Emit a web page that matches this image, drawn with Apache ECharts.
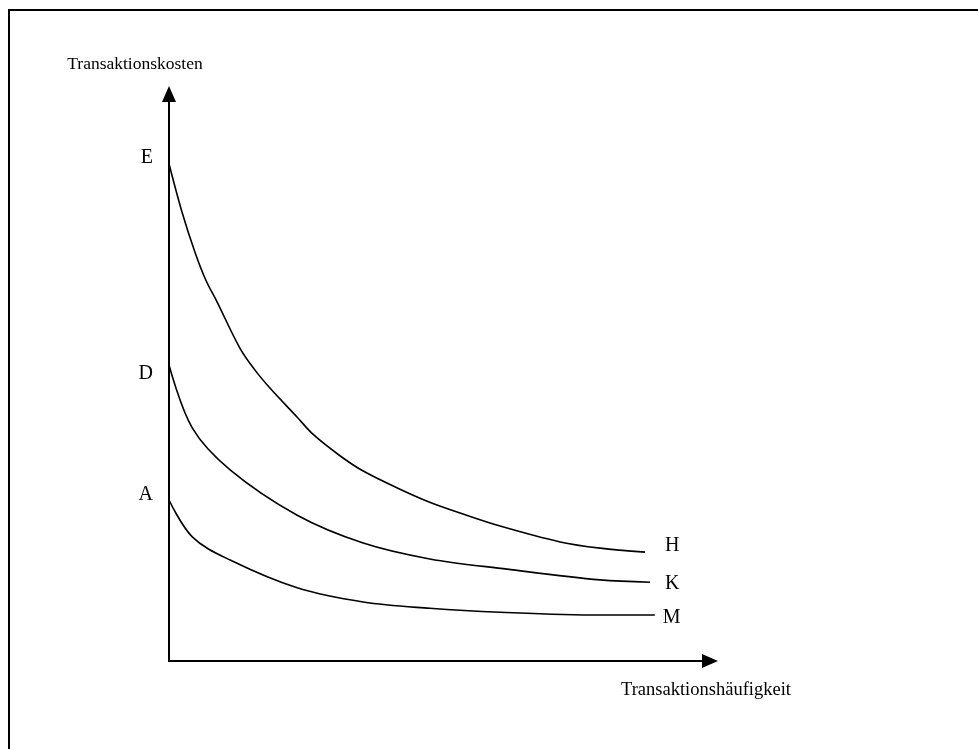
<!DOCTYPE html>
<html>
<head>
<meta charset="utf-8">
<script src="https://cdn.jsdelivr.net/npm/echarts@6/dist/echarts.min.js"></script>
<style>
  html, body { margin: 0; padding: 0; background: #fff; }
  #chart { width: 978px; height: 749px; }
</style>
</head>
<body>
<div id="chart"></div>
<script>
// curve values (x: Transaktionshäufigkeit, y: Transaktionskosten, both 0-100)
var hX = [0, 2.4, 4.8, 6.8, 8.9, 13.1, 15.9, 18.7, 23.7, 26.6, 31.6, 35.9, 42.7, 48.2, 53.8, 61.2, 72.3, 79.7, 88.0];
var hY = [87.7, 79.2, 72.1, 67.2, 63.3, 55.2, 51.3, 48.1, 43.0, 40.0, 36.2, 33.5, 30.3, 28.0, 26.1, 23.8, 21.0, 19.9, 19.2];
var kX = [0, 4.3, 11.3, 23.7, 35.9, 48.2, 62.5, 79.7, 88.9];
var kY = [52.2, 41.1, 33.7, 25.7, 20.8, 18.0, 16.2, 14.3, 13.9];
var mX = [0, 4.3, 11.3, 23.7, 35.9, 48.2, 61.2, 79.7, 89.8];
var mY = [28.4, 21.9, 17.8, 12.9, 10.4, 9.3, 8.6, 8.1, 8.1];
var startLabels = ['E', 'D', 'A'];
var endLabels = ['H', 'K', 'M'];
var yName = 'Transaktionskosten';
var xName = 'Transaktionshäufigkeit';

var font = '"Liberation Serif", "DejaVu Serif", serif';

function pairs(xs, ys) {
  var out = [];
  for (var i = 0; i < xs.length; i++) {
    out.push([xs[i], ys[i]]);
  }
  return out;
}

// xs, ys, start label offset, end label distance, end label offset
var curves = [
  [hX, hY, [0, -6], 20, [0, -6]],
  [kX, kY, [0, 9], 15, [0, 2]],
  [mX, mY, [0, -5], 8, [0, 3]]
];
var series = [];
for (var i = 0; i < curves.length; i++) {
  var c = curves[i];
  series.push({
    name: endLabels[i],
    type: 'line',
    data: pairs(c[0], c[1]),
    smooth: 0.35,
    showSymbol: false,
    silent: true,
    lineStyle: { color: '#000', width: 1.6 },
    endLabel: {
      show: true,
      formatter: '{a}',
      distance: c[3],
      offset: c[4],
      color: '#000',
      fontFamily: font,
      fontSize: 20
    },
    markPoint: {
      silent: true,
      symbol: 'circle',
      symbolSize: 0,
      data: [{
        coord: [c[0][0], c[1][0]],
        label: {
          show: true,
          position: 'left',
          distance: 16,
          offset: c[2],
          formatter: startLabels[i],
          color: '#000',
          fontFamily: font,
          fontSize: 20
        }
      }]
    }
  });
}

var chart = echarts.init(document.getElementById('chart'));
chart.setOption({
  animation: false,
  backgroundColor: '#fff',
  grid: { left: 169, right: 268, top: 94, bottom: 88 },
  xAxis: {
    type: 'value',
    min: 0,
    max: 100,
    name: xName,
    nameLocation: 'end',
    nameGap: -4,
    nameTextStyle: {
      color: '#000',
      fontFamily: font,
      fontSize: 18.5,
      align: 'center',
      verticalAlign: 'top',
      padding: [20, 0, 0, 0]
    },
    axisLine: {
      show: true,
      symbol: ['none', 'triangle'],
      symbolSize: [14, 16],
      lineStyle: { color: '#000', width: 2 }
    },
    axisTick: { show: false },
    axisLabel: { show: false },
    splitLine: { show: false }
  },
  yAxis: {
    type: 'value',
    min: 0,
    max: 100,
    name: yName,
    nameLocation: 'end',
    nameGap: 21,
    nameTextStyle: {
      color: '#000',
      fontFamily: font,
      fontSize: 17.5,
      align: 'center',
      padding: [0, 68, 0, 0]
    },
    axisLine: {
      show: true,
      symbol: ['none', 'triangle'],
      symbolSize: [14, 16],
      lineStyle: { color: '#000', width: 2 }
    },
    axisTick: { show: false },
    axisLabel: { show: false },
    splitLine: { show: false }
  },
  graphic: [{
    type: 'rect',
    shape: { x: 9, y: 10, width: 1000, height: 800 },
    style: { fill: 'none', stroke: '#000', lineWidth: 2 },
    silent: true
  }],
  series: series
});
</script>
</body>
</html>
